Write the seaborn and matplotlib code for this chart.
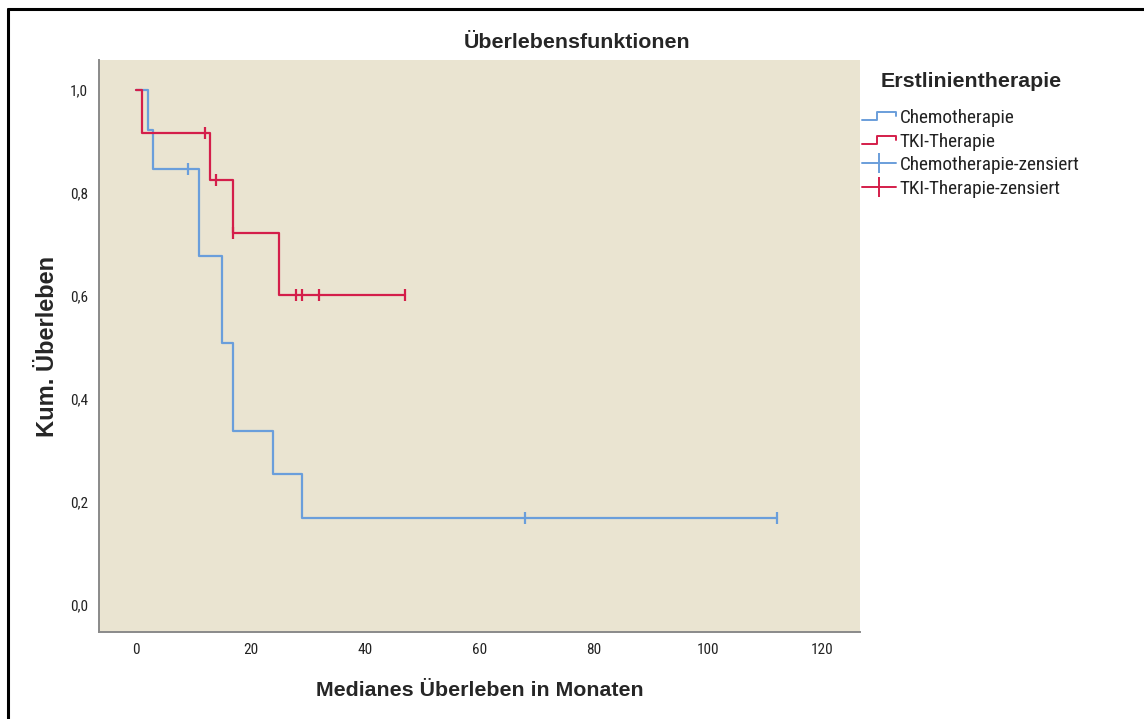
import numpy as np
import pandas as pd
import matplotlib
matplotlib.use("Agg")
import matplotlib.pyplot as plt
from matplotlib import font_manager
from matplotlib.lines import Line2D
from matplotlib.legend_handler import HandlerBase
from matplotlib.ticker import FixedLocator, FuncFormatter
import seaborn as sns

# Kaplan-Meier step curves (time in months, cumulative survival)
chemo_time = [0, 2, 3, 11, 15, 17, 24, 29, 112]
chemo_surv = [1.0, 0.923, 0.846, 0.677, 0.508, 0.339, 0.254, 0.169, 0.169]
tki_time = [0, 1, 13, 17, 25, 47]
tki_surv = [1.0, 0.917, 0.825, 0.722, 0.602, 0.602]

# censored observations
chemo_cens_time = [9, 68, 112]
chemo_cens_surv = [0.846, 0.169, 0.169]
tki_cens_time = [12, 14, 17, 28, 29, 32, 47]
tki_cens_surv = [0.917, 0.825, 0.722, 0.602, 0.602, 0.602, 0.602]

groups = ["Chemotherapie", "TKI-Therapie"]
x_ticks = [0, 20, 40, 60, 80, 100, 120]
y_ticks = [0.0, 0.2, 0.4, 0.6, 0.8, 1.0]

BLUE = "#6A9EDB"
RED = "#D41E4A"
BG = "#EAE4D1"

curves = pd.DataFrame({
    "Monate": chemo_time + tki_time,
    "Surv": chemo_surv + tki_surv,
    "Gruppe": [groups[0]] * len(chemo_time) + [groups[1]] * len(tki_time),
})
censored = pd.DataFrame({
    "Monate": chemo_cens_time + tki_cens_time,
    "Surv": chemo_cens_surv + tki_cens_surv,
    "Gruppe": [groups[0]] * len(chemo_cens_time) + [groups[1]] * len(tki_cens_time),
})
palette = {groups[0]: BLUE, groups[1]: RED}

sns.set_style("white")
plt.rcParams["font.family"] = ["Liberation Sans", "DejaVu Sans"]

# a narrow face for tick and legend labels
_installed = {f.name for f in font_manager.fontManager.ttflist}
_narrow = next((n for n in ["Liberation Sans Narrow", "Arial Narrow", "Roboto Condensed"]
                if n in _installed), None)
if _narrow:
    NARROW = font_manager.FontProperties(family=_narrow)
else:
    NARROW = font_manager.FontProperties(family="DejaVu Sans", stretch="condensed")


def narrow(size):
    fp = NARROW.copy()
    fp.set_size(size)
    return fp


fig = plt.figure(figsize=(11.44, 7.19), dpi=100)
ax = fig.add_axes([99 / 1144, 1 - 632 / 719, (860 - 99) / 1144, (632 - 60) / 719])
ax.set_facecolor(BG)

sns.lineplot(data=curves, x="Monate", y="Surv", hue="Gruppe", palette=palette,
             estimator=None, sort=False, drawstyle="steps-post", linewidth=1.6,
             legend=False, ax=ax)
sns.scatterplot(data=censored, x="Monate", y="Surv", hue="Gruppe", palette=palette,
                marker="|", s=75, linewidth=1.6, legend=False, ax=ax, zorder=3)

ax.set_xlim(-6.5, 126.6)
ax.set_ylim(-0.052, 1.058)
ax.xaxis.set_major_locator(FixedLocator(x_ticks))
ax.yaxis.set_major_locator(FixedLocator(y_ticks))
ax.yaxis.set_major_formatter(FuncFormatter(lambda v, p: f"{v:.1f}".replace(".", ",")))
ax.tick_params(length=0, pad=8, colors="#222222")
for lab in ax.get_xticklabels() + ax.get_yticklabels():
    lab.set_fontproperties(narrow(11))

for s in ("top", "right"):
    ax.spines[s].set_visible(False)
for s in ("left", "bottom"):
    ax.spines[s].set_color("#8a8a8a")
    ax.spines[s].set_linewidth(1.4)

ax.set_xlabel("Medianes Überleben in Monaten", fontsize=15.4, fontweight="bold", labelpad=17)
ax.set_ylabel("Kum. Überleben", fontsize=17, fontweight="bold", labelpad=8)
fig.text(577 / 1144, 1 - 42 / 719, "Überlebensfunktionen", ha="center", va="center",
         fontsize=15.4, fontweight="bold")


class StepHandler(HandlerBase):
    def create_artists(self, legend, orig_handle, xdescent, ydescent, width, height,
                       fontsize, trans):
        x0, y0 = -xdescent, -ydescent
        lo, hi = y0 + height * 0.2, y0 + height * 0.8
        xs = [x0, x0 + width * 0.45, x0 + width * 0.45, x0 + width, x0 + width]
        ys = [lo, lo, hi, hi, hi - height * 0.3]
        ln = Line2D(xs, ys, color=orig_handle.get_color(), lw=1.4, transform=trans)
        return [ln]


h_chemo = Line2D([], [], color=BLUE)
h_tki = Line2D([], [], color=RED)
h_chemo_c = Line2D([], [], color=BLUE, lw=1.4, marker="|", markersize=14, markeredgewidth=1.4)
h_tki_c = Line2D([], [], color=RED, lw=1.4, marker="|", markersize=14, markeredgewidth=1.4)

leg = fig.legend([h_chemo, h_tki, h_chemo_c, h_tki_c],
                 ["Chemotherapie", "TKI-Therapie", "Chemotherapie-zensiert", "TKI-Therapie-zensiert"],
                 handler_map={h_chemo: StepHandler(), h_tki: StepHandler()},
                 loc="upper left", bbox_to_anchor=(862 / 1144, 1 - 72 / 719),
                 frameon=False, borderpad=0, borderaxespad=0, numpoints=1,
                 handlelength=1.75, handletextpad=0.2, labelspacing=0.29,
                 prop=narrow(13.9),
                 title="Erstlinientherapie",
                 title_fontproperties={"family": "Liberation Sans", "weight": "bold", "size": 15.4})
leg._legend_box.sep = 13
for t in leg.get_texts():
    t.set_color("#222222")

# outer frame lines along the top and left edge
fig.add_artist(Line2D([8 / 1144, 1], [1 - 9 / 719, 1 - 9 / 719], color="black", lw=2.2,
                      transform=fig.transFigure))
fig.add_artist(Line2D([8 / 1144, 8 / 1144], [0, 1 - 9 / 719], color="black", lw=2.2,
                      transform=fig.transFigure))

fig.savefig("out.png", dpi=100)
